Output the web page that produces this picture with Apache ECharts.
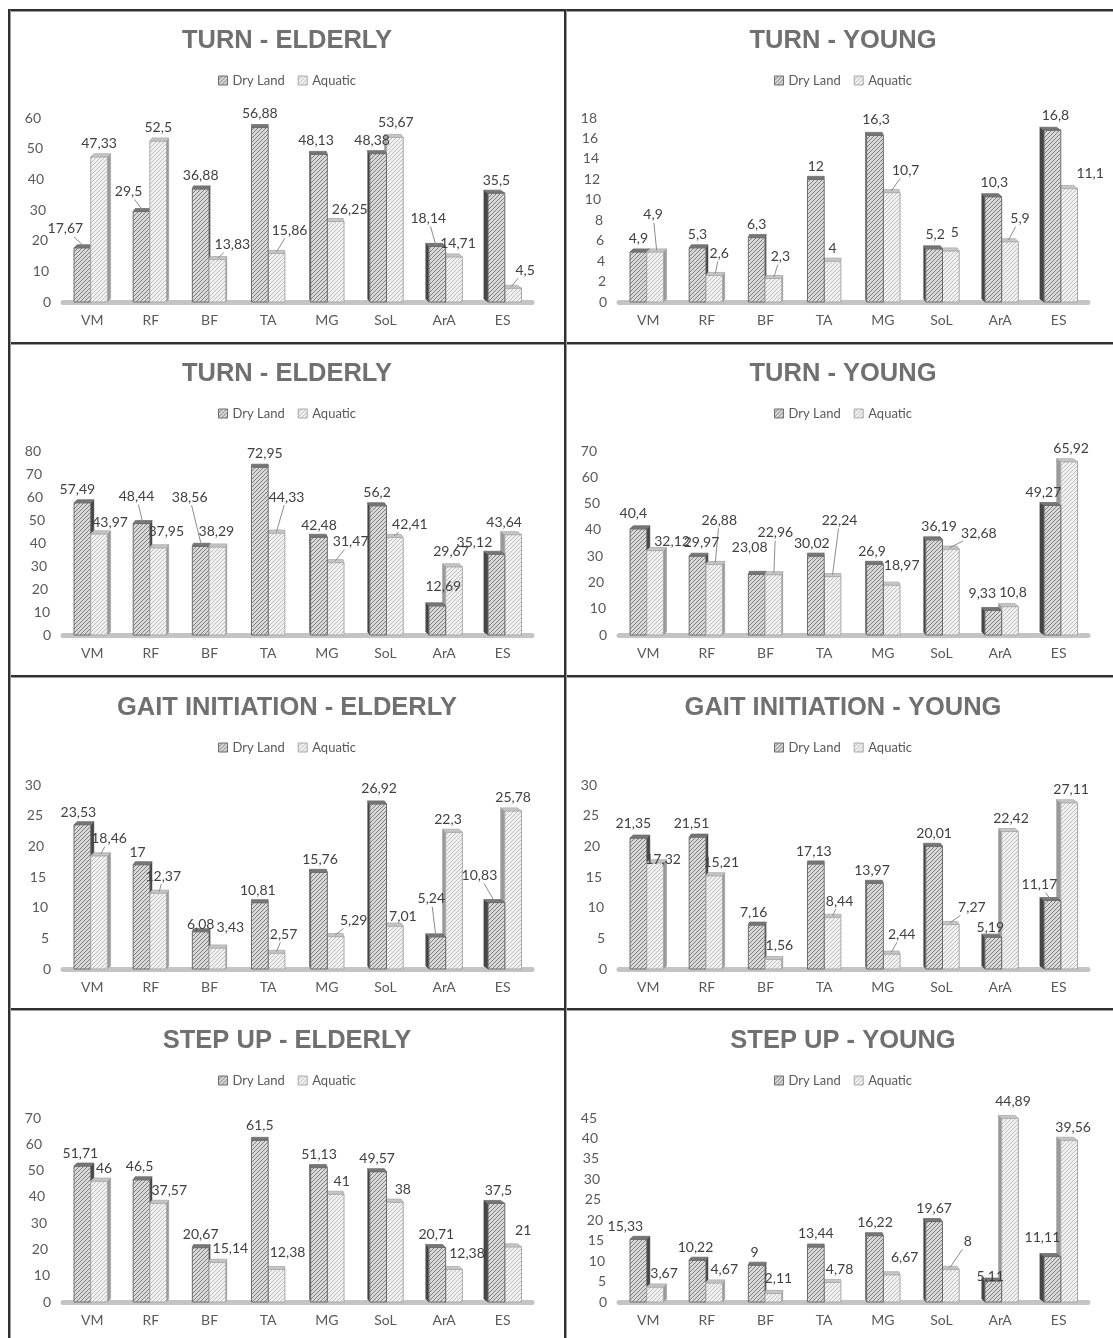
<!DOCTYPE html>
<html>
<head>
<meta charset="utf-8">
<title>EMG activity – Dry Land vs Aquatic</title>
<script src="https://cdn.jsdelivr.net/npm/echarts@6/dist/echarts.min.js"></script>
<style>
  html, body { margin: 0; padding: 0; background: #fff; width: 1113px; height: 1338px; overflow: hidden; }
  .panel { position: absolute; width: 556px; height: 334px; }
  .rule { position: absolute; background: #2f2f2f; box-shadow: 0 0 1px 0.5px #9c9c9c; z-index: 5; }
</style>
</head>
<body>
<div id="root"></div>
<script>
// ---- data -------------------------------------------------------------
const CATEGORIES = ['VM', 'RF', 'BF', 'TA', 'MG', 'SoL', 'ArA', 'ES'];
const SERIES_NAMES = ['Dry Land', 'Aquatic'];
const PANEL_TITLES = [
  'TURN - ELDERLY', 'TURN - YOUNG',
  'TURN - ELDERLY', 'TURN - YOUNG',
  'GAIT INITIATION - ELDERLY', 'GAIT INITIATION - YOUNG',
  'STEP UP - ELDERLY', 'STEP UP - YOUNG'
];
const Y_MAX = [60, 18, 80, 70, 30, 30, 70, 45];
const Y_STEP = [10, 2, 10, 10, 5, 5, 10, 5];

const turnElderlyADry = [17.67, 29.5, 36.88, 56.88, 48.13, 48.38, 18.14, 35.5];
const turnElderlyAAquatic = [47.33, 52.5, 13.83, 15.86, 26.25, 53.67, 14.71, 4.5];
const turnYoungADry = [4.9, 5.3, 6.3, 12, 16.3, 5.2, 10.3, 16.8];
const turnYoungAAquatic = [4.9, 2.6, 2.3, 4, 10.7, 5, 5.9, 11.1];
const turnElderlyBDry = [57.49, 48.44, 38.56, 72.95, 42.48, 56.2, 12.69, 35.12];
const turnElderlyBAquatic = [43.97, 37.95, 38.29, 44.33, 31.47, 42.41, 29.67, 43.64];
const turnYoungBDry = [40.4, 29.97, 23.08, 30.02, 26.9, 36.19, 9.33, 49.27];
const turnYoungBAquatic = [32.12, 26.88, 22.96, 22.24, 18.97, 32.68, 10.8, 65.92];
const gaitElderlyDry = [23.53, 17, 6.08, 10.81, 15.76, 26.92, 5.24, 10.83];
const gaitElderlyAquatic = [18.46, 12.37, 3.43, 2.57, 5.29, 7.01, 22.3, 25.78];
const gaitYoungDry = [21.35, 21.51, 7.16, 17.13, 13.97, 20.01, 5.19, 11.17];
const gaitYoungAquatic = [17.32, 15.21, 1.56, 8.44, 2.44, 7.27, 22.42, 27.11];
const stepElderlyDry = [51.71, 46.5, 20.67, 61.5, 51.13, 49.57, 20.71, 37.5];
const stepElderlyAquatic = [46, 37.57, 15.14, 12.38, 41, 38, 12.38, 21];
const stepYoungDry = [15.33, 10.22, 9, 13.44, 16.22, 19.67, 5.11, 11.11];
const stepYoungAquatic = [3.67, 4.67, 2.11, 4.78, 6.67, 8, 44.89, 39.56];

// ---- value-label placement: [dx, dy, leaderLine] in px from the default spot above a bar
const LABEL_NUDGE = [
  [[[-17,-6,1],[-13,-7,1],[0,0],[0,-1],[-3,-1],[-6,0],[-9,-15,1],[0,0]],
   [[0,0],[0,-1],[15,-2,1],[13,-10,1],[14,1],[1,-2],[4,0],[12,-5,1]]],
  [[[0,0],[0,0],[0,0],[0,0],[1,-3],[1,-1],[1,-1],[3,-2]],
   [[-2,-24,1],[5,-9,1],[7,-9,1],[0,0],[14,-9,1],[4,-5],[10,-10,1],[21,-2]]],
  [[[-5,0],[-5,-14,1],[-11,-36,1],[5,-1],[0,1],[-1,0],[6,-6],[-22,1]],
   [[11,2],[8,-3],[-1,-2],[10,-23,1],[15,-8,1],[15,0,1],[-3,-2],[-9,1]]],
  [[[-5,-2],[4,-1],[-7,-14],[-4,0],[-3,0],[5,0],[-11,-4],[-9,0]],
   [[17,4,1],[5,-31,1],[2,-29,1],[7,-43,1],[10,-7],[28,-3,1],[3,-1],[2,0]]],
  [[[-4,1],[-4,1],[0,6],[-2,1],[1,0],[1,-2],[-6,-25,1],[-17,-14,1]],
   [[10,-4,1],[5,-4,1],[13,-7],[7,-6,1],[18,-3,1],[8,3],[-6,0],[0,0]]],
  [[[-5,-2],[-6,-1],[-3,0],[-2,1],[-3,0],[0,0],[-3,3],[-13,-3,1]],
   [[8,10],[7,0],[6,-1],[7,-3,1],[10,-7,1],[21,-4,1],[1,0],[2,0]]],
  [[[-2,0],[-2,0],[0,0],[0,-2],[0,0],[-1,0],[-1,0],[2,0]],
   [[5,0],[11,0],[13,-1],[11,-4],[6,0],[8,0],[13,-3],[10,-3]]],
  [[[-13,0],[-2,0],[-2,0],[0,-1],[0,0],[0,0],[-3,8],[-10,-6]],
   [[9,-1],[10,0],[5,-2],[7,0],[13,-4],[17,-15,1],[3,-4],[4,0]]]
];

const PANEL_DATA = [
  [turnElderlyADry, turnElderlyAAquatic],
  [turnYoungADry, turnYoungAAquatic],
  [turnElderlyBDry, turnElderlyBAquatic],
  [turnYoungBDry, turnYoungBAquatic],
  [gaitElderlyDry, gaitElderlyAquatic],
  [gaitYoungDry, gaitYoungAquatic],
  [stepElderlyDry, stepElderlyAquatic],
  [stepYoungDry, stepYoungAquatic]
];

// ---- hatched fills -------------------------------------------------------
function hatch(bg, fg) {
  const c = document.createElement('canvas');
  c.width = 4; c.height = 4;
  const g = c.getContext('2d');
  g.fillStyle = bg; g.fillRect(0, 0, 4, 4);
  g.strokeStyle = fg; g.lineWidth = 1;
  g.beginPath();
  g.moveTo(0, 4); g.lineTo(4, 0);
  g.moveTo(-1, 1); g.lineTo(1, -1);
  g.moveTo(3, 5); g.lineTo(5, 3);
  g.stroke();
  return { image: c, repeat: 'repeat' };
}

const LOOK = [
  { front: hatch('#d9d9d9', '#7d7d7d'), stroke: '#6c6c6c', top: '#767676', side: '#464646' },
  { front: hatch('#f1f1f1', '#bdbdbd'), stroke: '#a9a9a9', top: '#c6c6c6', side: '#9a9a9a' }
];

const FONT = 'Lato, "Open Sans", sans-serif';

function fmt(v) { return String(v).replace('.', ','); }

// 3-D looking column: front face, perspective side face and top face
function barRenderer(side, nudges) {
  return function (params, api) {
    const i = api.value(0);
    const v = api.value(1);
    const band = api.size([1, 0])[0];
    const base = api.coord([i, 0]);
    const topPt = api.coord([i, v]);
    const W = band * 0.285;
    const s = (3 - i) * band * 0.018;   // side-face width, vanishing towards the middle
    const d = 3;                          // depth rise of the top face
    const cx = base[0] - s / 2;
    const l = side === 0 ? cx - W : cx;
    const r = l + W;
    const y0 = base[1], y1 = topPt[1];
    const look = LOOK[side];
    const order = ((s > 0) === (side === 1)) ? 2 : 1;
    const zb = order * 4;
    const children = [];

    if (Math.abs(s) > 0.3) {
      const ex = s > 0 ? r : l;
      children.push({
        type: 'polygon', z2: zb,
        shape: { points: [[ex, y1], [ex + s, y1 - d], [ex + s, y0 - d], [ex, y0]] },
        style: { fill: look.side, stroke: look.side, lineWidth: 0.5 }
      });
    }
    children.push({
      type: 'rect', z2: zb + 1,
      shape: { x: l, y: y1, width: W, height: y0 - y1 },
      style: { fill: look.front, stroke: look.stroke, lineWidth: 1 }
    });
    children.push({
      type: 'polygon', z2: zb + 2,
      shape: { points: [[l, y1], [r, y1], [r + s, y1 - d], [l + s, y1 - d]] },
      style: { fill: look.top, stroke: look.stroke, lineWidth: 0.8 }
    });

    const nd = nudges[i] || [0, 0];
    const txt = fmt(v);
    const lx = (l + r) / 2 + nd[0];
    const ly = y1 - 13 + nd[1];
    children.push({
      type: 'text', z2: 100, x: lx, y: ly,
      style: {
        text: txt, fill: '#404040', font: '14px ' + FONT,
        align: 'center', verticalAlign: 'middle',
        textAlign: 'center', textVerticalAlign: 'middle'
      }
    });
    if (nd[2]) {
      const tx = (l + r) / 2 + s / 2;
      const ty = y1 - d / 2;
      const vx = tx - lx, vy = ty - ly;
      const hw = txt.length * 3.7 + 2, hh = 8;
      const t = Math.min(vx ? Math.abs(hw / vx) : Infinity, vy ? Math.abs(hh / vy) : Infinity);
      if (t < 1) {
        children.push({
          type: 'line', z2: 90,
          shape: { x1: lx + vx * t, y1: ly + vy * t, x2: tx, y2: ty },
          style: { stroke: '#8c8c8c', lineWidth: 1 }
        });
      }
    }
    return { type: 'group', children: children };
  };
}

function slantRich(n) {
  const rich = {};
  for (let k = 0; k <= n; k++) {
    rich['t' + k] = { padding: [0, Math.round(10 * k / n), 0, 0], color: '#595959', fontSize: 14, fontFamily: FONT };
  }
  return rich;
}

// ---- panels --------------------------------------------------------------
const root = document.getElementById('root');
const COL_X = [9, 565];
const ROW_Y = [9, 342, 676, 1009];

PANEL_DATA.forEach(function (pair, p) {
  const div = document.createElement('div');
  div.className = 'panel';
  div.style.left = COL_X[p % 2] + 'px';
  div.style.top = ROW_Y[Math.floor(p / 2)] + 'px';
  root.appendChild(div);

  const nTicks = Y_MAX[p] / Y_STEP[p];
  const chart = echarts.init(div, null, { renderer: 'canvas' });
  chart.setOption({
    animation: false,
    backgroundColor: '#ffffff',
    title: {
      text: PANEL_TITLES[p], left: 'center', top: 14,
      textStyle: { fontFamily: '"Liberation Sans", Arial, sans-serif', fontWeight: 'bold', fontSize: 25.5, color: '#707070' }
    },
    legend: {
      top: 60, left: 'center', itemWidth: 9, itemHeight: 9, itemGap: 13, icon: 'rect',
      textStyle: { fontFamily: FONT, fontSize: 13, color: '#595959' },
      data: SERIES_NAMES.map(function (name, k) {
        return { name: name, itemStyle: { color: LOOK[k].front, borderColor: LOOK[k].stroke, borderWidth: 1 } };
      })
    },
    grid: { left: 54, top: 109, width: 469, height: 184 },
    xAxis: {
      type: 'category', data: CATEGORIES,
      axisLine: { show: true, lineStyle: { color: '#c4c4c4', width: 5 } },
      axisTick: { show: false },
      axisLabel: { margin: 11, color: '#595959', fontSize: 14, fontFamily: FONT },
      splitLine: { show: false }
    },
    yAxis: {
      type: 'value', min: 0, max: Y_MAX[p], interval: Y_STEP[p],
      axisLine: { show: false }, axisTick: { show: false }, splitLine: { show: false },
      axisLabel: {
        margin: 12,
        formatter: function (val, idx) { return '{t' + idx + '|' + val + '}'; },
        rich: slantRich(nTicks)
      }
    },
    series: pair.map(function (values, k) {
      return {
        type: 'custom', name: SERIES_NAMES[k],
        itemStyle: { color: LOOK[k].front, borderColor: LOOK[k].stroke, borderWidth: 1 },
        renderItem: barRenderer(k, LABEL_NUDGE[p][k]),
        clip: false,
        data: values.map(function (v, i) { return [i, v]; })
      };
    })
  });
});

// panel frame lines
[[8, 9, 1105, 2], [8, 342, 1105, 2], [8, 675, 1105, 2], [8, 1008, 1105, 2],
 [8, 9, 2, 1329], [564, 9, 2, 1329]].forEach(function (r) {
  const d = document.createElement('div');
  d.className = 'rule';
  d.style.left = r[0] + 'px'; d.style.top = r[1] + 'px';
  d.style.width = r[2] + 'px'; d.style.height = r[3] + 'px';
  root.appendChild(d);
});
</script>
</body>
</html>
